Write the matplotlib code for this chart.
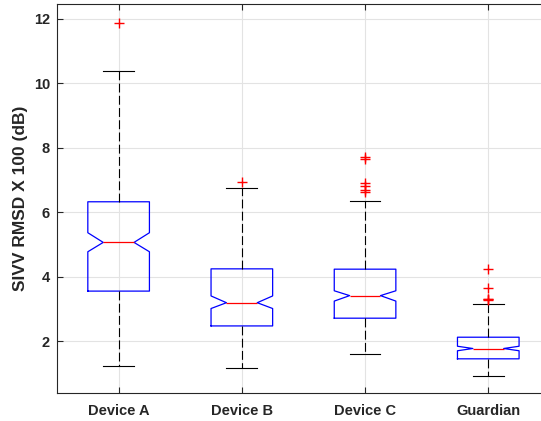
import matplotlib
matplotlib.use("Agg")
import matplotlib.pyplot as plt

# values
labels = ["Device A", "Device B", "Device C", "Guardian"]
whislo = [1.25, 1.19, 1.61, 0.93]
q1 = [3.56, 2.48, 2.72, 1.46]
med = [5.07, 3.20, 3.42, 1.78]
q3 = [6.33, 4.25, 4.24, 2.13]
whishi = [10.38, 6.76, 6.35, 3.17]
cilo = [4.78, 3.02, 3.25, 1.71]
cihi = [5.37, 3.41, 3.57, 1.85]
fliers = [[11.88],
		[6.93],
		[7.72, 7.65, 6.90, 6.81, 6.69, 6.63],
		[4.25, 3.67, 3.33, 3.30, 3.27]]

plt.rcParams["font.family"] = ["Liberation Sans", "DejaVu Sans"]
plt.rcParams["font.weight"] = "bold"

fig = plt.figure(figsize=(5.41, 4.21), dpi=100)
ax = fig.add_axes([0.1054, 0.0665, 0.911, 0.923])

stats = []
for i in range(len(labels)):
	stats.append({"label": labels[i], "whislo": whislo[i], "q1": q1[i], "med": med[i],
				"q3": q3[i], "whishi": whishi[i], "cilo": cilo[i], "cihi": cihi[i],
				"fliers": fliers[i]})

ax.bxp(stats, positions=[1, 2, 3, 4], widths=0.5, shownotches=True,
	boxprops=dict(color="blue", linewidth=0.9),
	medianprops=dict(color="red", linewidth=0.9),
	whiskerprops=dict(color="black", linewidth=0.8, linestyle=(0, (8, 3))),
	capprops=dict(color="black", linewidth=0.8),
	flierprops=dict(marker="+", markeredgecolor="red", markersize=7, markeredgewidth=1.0))

ax.set_xlim(0.5, 4.5)
ax.set_ylim(0.4, 12.45)
ax.set_yticks([2, 4, 6, 8, 10, 12])
ax.set_xticks([1, 2, 3, 4])
ax.set_xticklabels(labels)
ax.grid(True, color="#e3e3e3", linewidth=0.8)
ax.set_axisbelow(True)
ax.tick_params(direction="in", top=True, right=True, length=4, colors="#262626",
			labelsize=10.5)
ax.tick_params(axis="x", pad=8)
ax.tick_params(axis="y", pad=5)
for sp in ax.spines.values():
	sp.set_color("#262626")
	sp.set_linewidth(0.8)
for t in ax.get_xticklabels() + ax.get_yticklabels():
	t.set_fontweight("bold")
ax.set_ylabel("SIVV RMSD X 100 (dB)", fontsize=12.5, fontweight="bold", color="#262626", labelpad=4)

fig.savefig("out.png", dpi=100)
